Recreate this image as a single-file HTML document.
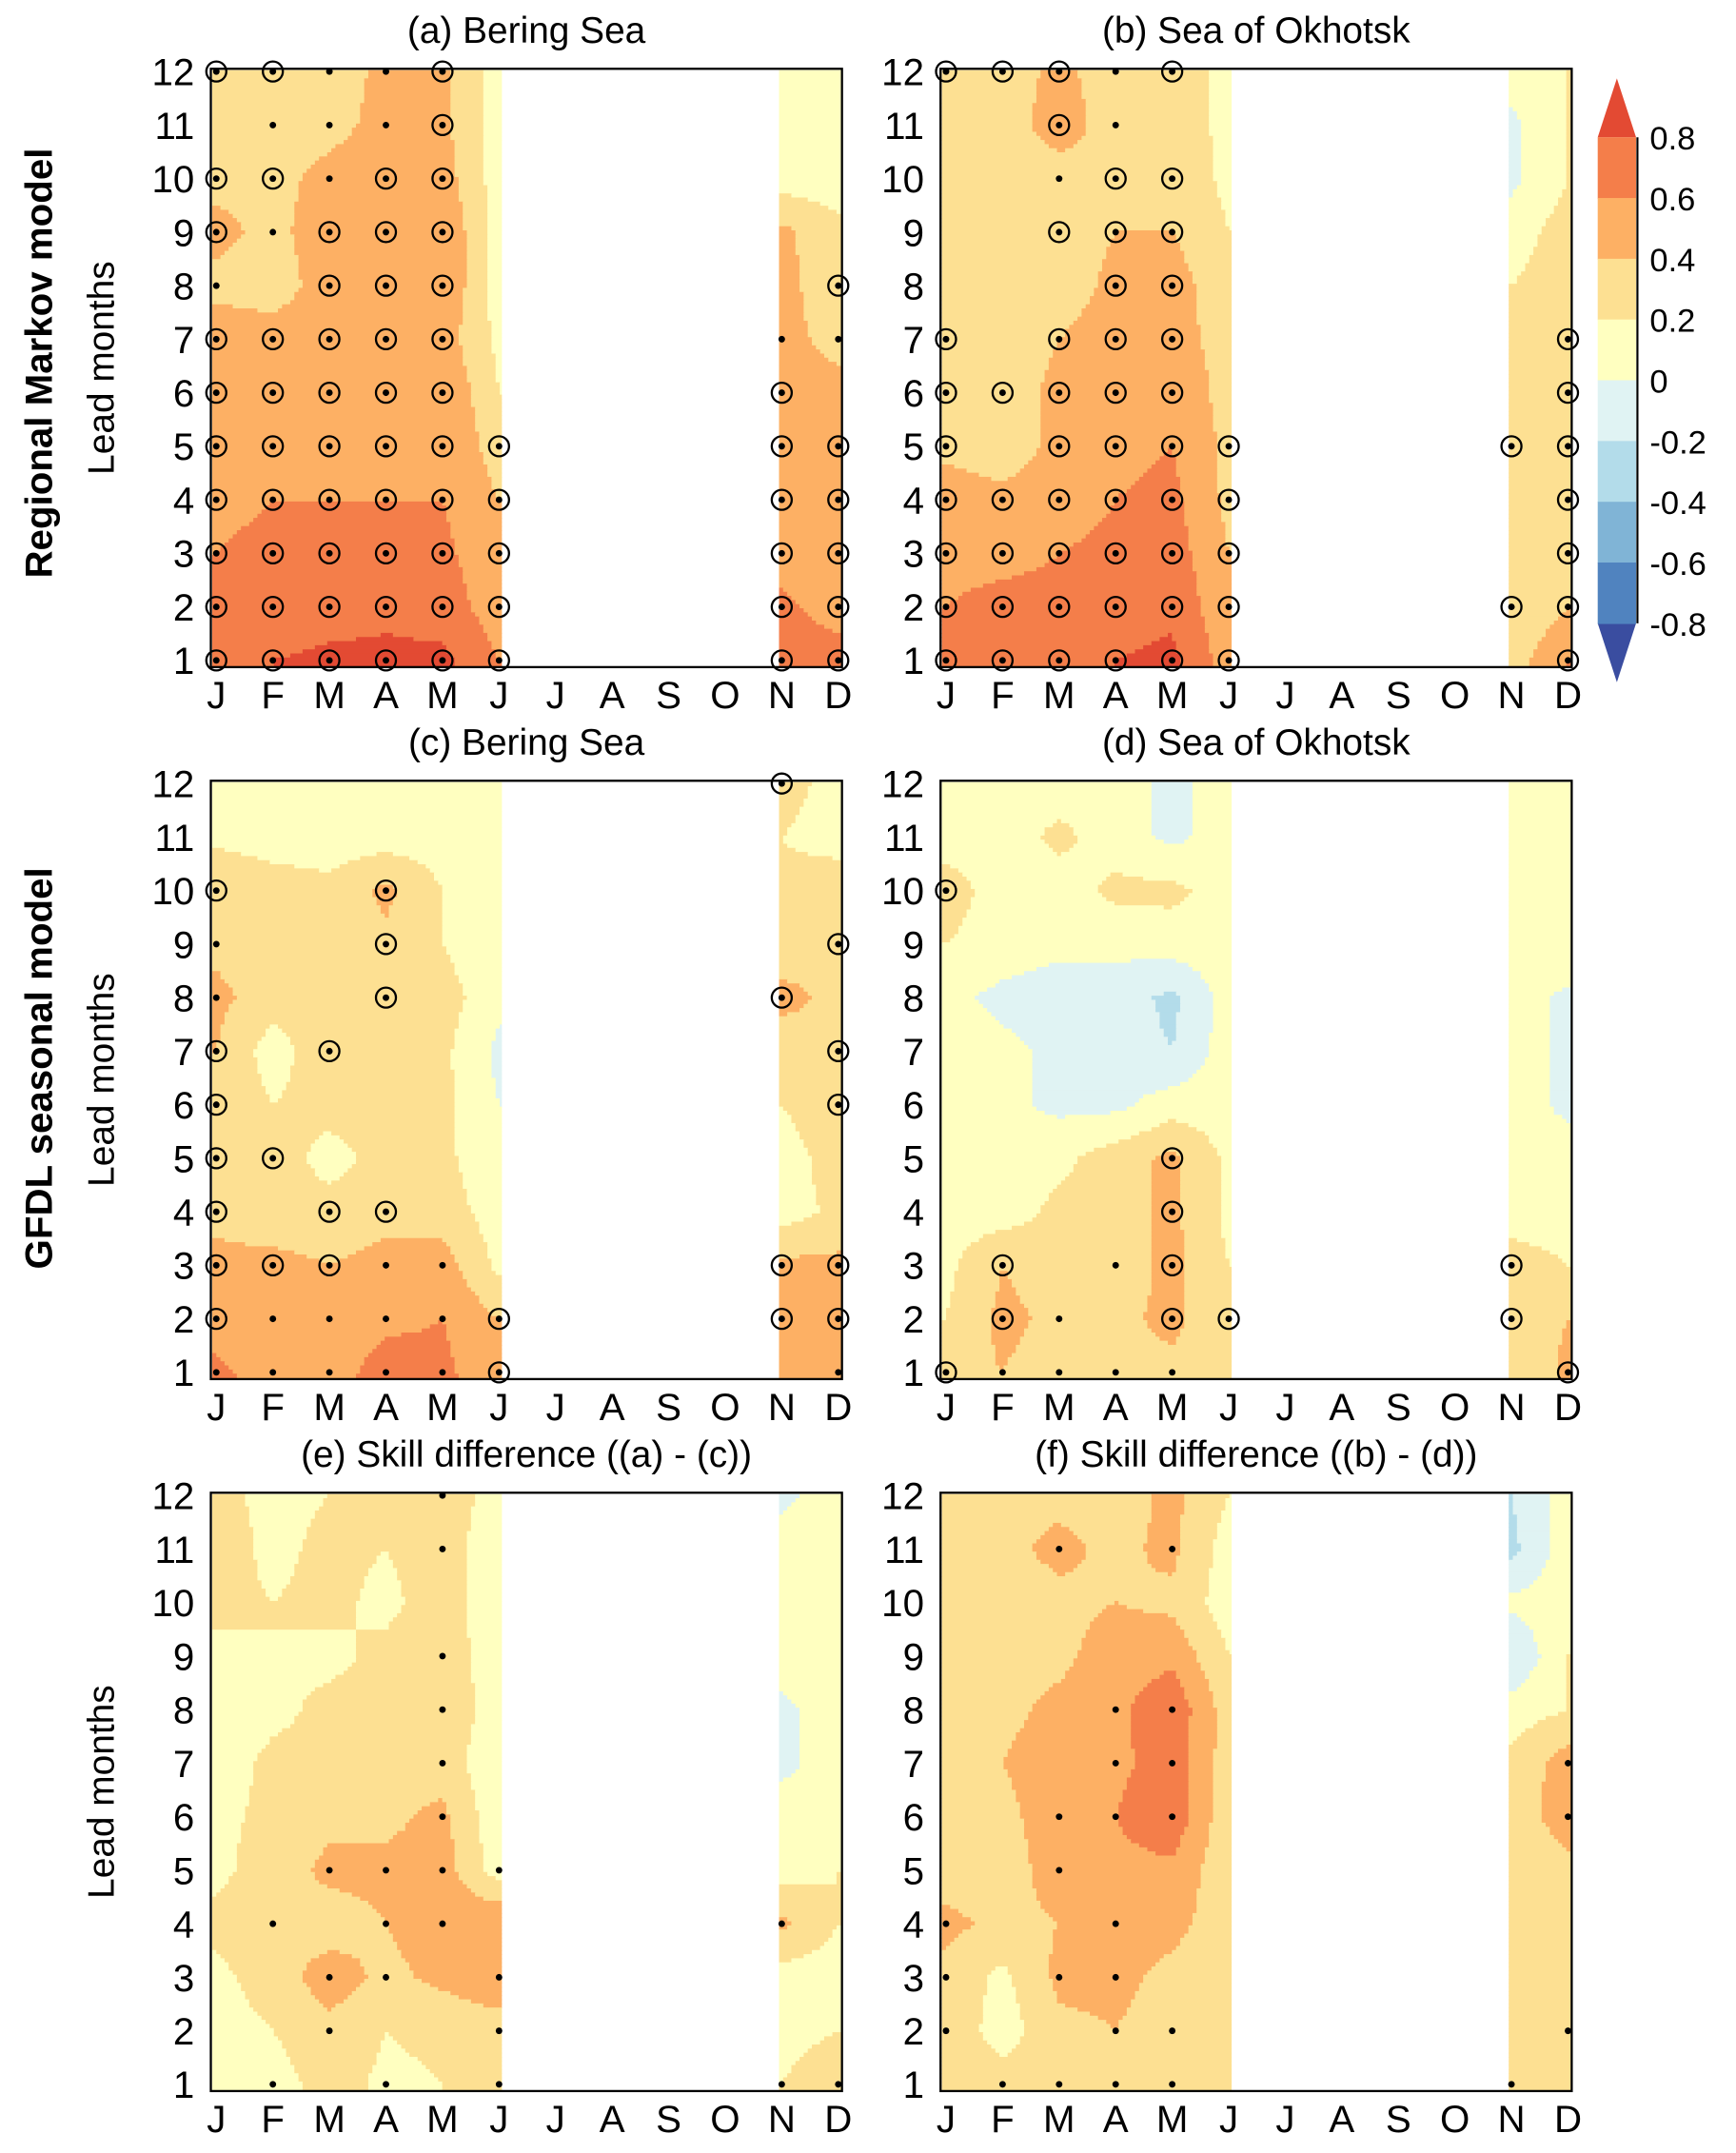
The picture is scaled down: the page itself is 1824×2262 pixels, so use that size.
<!DOCTYPE html>
<html><head><meta charset="utf-8"><style>
html,body{margin:0;padding:0;background:#fff}
svg{display:block}
text{font-family:"Liberation Sans","DejaVu Sans",sans-serif;fill:#000}
</style></head><body>
<svg id="s" width="1824" height="2262" viewBox="0 0 1268 1572" xmlns="http://www.w3.org/2000/svg">
<g id="fills"></g><g id="marks"></g><g id="axes"></g>
</svg>
<script>
(function(){
const NS="http://www.w3.org/2000/svg";
function el(t,a,p,txt){const e=document.createElementNS(NS,t);for(const k in a)e.setAttribute(k,a[k]);if(txt!==undefined)e.textContent=txt;(p||document.getElementById('axes')).appendChild(e);return e;}
function tx(a,s){return el('text',a,null,s);}
const cols=["#3a4da0","#5083bf","#80b4d6","#b3dcea","#e0f3f3","#ffffc0","#fde092","#fdb064","#f47e4a","#e34a33"];
function col(v){const edges=[-0.8,-0.6,-0.4,-0.2,0,0.2,0.4,0.6,0.8];let i=0;while(i<9&&v>=edges[i])i++;return cols[i];}
const P=[
{t:"(a) Bering Sea",d:[
[.3,.3,.3,.45,.45,.1,.1,.1],[.3,.3,.35,.45,.45,.1,.1,.1],[.35,.35,.45,.5,.5,.1,.1,.1],[.45,.35,.5,.5,.6,.1,.45,.25],
[.35,.3,.5,.5,.6,.1,.45,.3],[.5,.5,.5,.5,.5,.15,.45,.35],[.5,.5,.5,.5,.6,.2,.5,.45],[.5,.5,.5,.55,.6,.3,.5,.5],
[.55,.6,.6,.6,.6,.4,.5,.5],[.6,.65,.65,.65,.65,.45,.5,.5],[.65,.65,.7,.75,.7,.5,.65,.5],[.75,.8,.85,.85,.85,.6,.7,.7]],
m:["oo..o---","-...o---","oo.oo---","o.ooo---",".-ooo--o","ooooo-..","ooooo-o-","oooooooo","oooooooo","oooooooo","oooooooo","oooooooo"]},
{t:"(b) Sea of Okhotsk",d:[
[.3,.3,.45,.3,.3,.15,.1,.2],[.3,.3,.5,.3,.3,.15,-.05,.2],[.3,.3,.3,.4,.35,.15,-.05,.2],[.3,.3,.3,.4,.4,.2,.1,.3],
[.3,.3,.3,.45,.5,.25,.2,.3],[.3,.3,.4,.5,.5,.3,.2,.3],[.3,.3,.45,.5,.6,.3,.2,.3],[.35,.3,.45,.55,.6,.35,.2,.3],
[.5,.45,.5,.6,.65,.35,.2,.3],[.55,.55,.6,.65,.7,.4,.2,.3],[.6,.65,.65,.7,.75,.45,.2,.4],[.7,.7,.75,.8,.85,.5,.3,.6]],
m:["ooo.o---","--o.----","--.oo---","--ooo---","---oo---","o-ooo--o","ooooo--o","o-oooooo","oooooo-o","oooooo-o","oooooooo","oooooo-o"]},
{t:"(c) Bering Sea",d:[
[.1,.1,.1,.1,0,.1,.3,.1],[.15,.1,.1,.1,.1,0,.2,.1],[.4,.3,.25,.45,.2,0,.25,.35],[.35,.3,.3,.35,.2,0,.3,.4],
[.45,.3,.3,.35,.3,.05,.45,.35],[.4,.1,.35,.3,.25,-.05,.3,.4],[.35,.2,.3,.3,.25,0,.2,.35],[.35,.35,.1,.3,.25,.05,.1,.3],
[.35,.3,.3,.35,.3,.1,.1,.25],[.45,.45,.4,.45,.5,.15,.45,.45],[.5,.4,.45,.55,.6,.4,.45,.4],[.65,.5,.5,.7,.65,.45,.4,.5]],
m:["------o-","--------","o--o----",".--o---o",".--o--o-","o-o----o","o------o","oo------","o-oo----","ooo..-oo","o....ooo",".....o-."]},
{t:"(d) Sea of Okhotsk",d:[
[.1,.1,.1,.1,-.05,.1,.1,.1],[.1,.1,.25,.1,-.05,.1,.1,.1],[.3,.1,.1,.25,.25,.1,.1,.1],[.2,.1,.05,.05,.1,.1,.1,.2],
[.05,-.05,-.1,-.1,-.25,.1,.1,-.05],[.1,.05,-.05,-.1,-.2,.1,.1,-.05],[.1,.05,-.05,-.05,.1,.1,.1,-.05],[.1,.1,.15,.3,.45,.15,.1,.1],
[.1,.1,.25,.3,.45,.15,.1,.1],[.15,.4,.3,.3,.45,.2,.3,.2],[.2,.45,.35,.35,.45,.25,.3,.4],[.35,.4,.3,.35,.35,.25,.2,.45]],
m:["--------","--------","o-------","--------","--------","--------","--------","----o---","----o---","-o-.o-o-","-o.-ooo-","o....--o"]},
{t:"(e) Skill difference ((a) - (c))",d:[
[.25,.15,.2,.25,.4,.05,-.05,.1],[.3,.15,.25,.2,.3,.05,.1,.1],[.25,.2,.25,.15,.3,.05,.05,.1],[.15,.2,.15,.25,.35,.05,.1,.2],
[.05,.15,.25,.3,.4,.05,-.05,.1],[.1,.25,.25,.35,.3,.05,-.05,.1],[.15,.25,.35,.35,.45,.05,.1,.05],[.15,.3,.45,.45,.5,.1,.1,.2],
[.25,.35,.3,.4,.5,.6,.45,.2],[.15,.3,.5,.35,.45,.55,.1,.1],[.1,.2,.35,.2,.25,.3,.15,.2],[.1,.1,.3,.15,.2,.25,.2,.3]],
m:["----.---","----.---","--------","----.---","----.---","----.---","----.---","--....--","-.-..-.-","--..-.--","--.--.--","-.-.-..."]},
{t:"(f) Skill difference ((b) - (d))",d:[
[.3,.35,.35,.3,.45,.2,-.2,.1],[.3,.35,.45,.35,.45,.1,-.25,.1],[.25,.3,.35,.4,.35,.1,.05,.1],[.3,.35,.35,.5,.55,.2,-.2,.2],
[.3,.35,.45,.55,.75,.3,.1,.2],[.3,.4,.5,.55,.7,.3,.25,.5],[.3,.35,.5,.6,.75,.25,.3,.5],[.3,.3,.5,.55,.55,.25,.2,.35],
[.45,.35,.4,.5,.45,.3,.25,.3],[.35,.15,.45,.45,.35,.3,.25,.35],[.35,.1,.35,.4,.3,.3,.25,.35],[.3,.3,.35,.35,.3,.3,.2,.3]],
m:["--------","--.-.---","--------","--------","---..---","---..--.","--...--.","--.-----",".--.----",".-..----",".--..--.","-....-.-"]}
];
const fills=document.getElementById('fills'),marks=document.getElementById('marks');
const step=41.3, rs=39.1;
const months=["J","F","M","A","M","J","J","A","S","O","N","D"];
P.forEach((p,i)=>{
 const ox=(i%2)*533, oy=Math.floor(i/2)*520;
 const X0=158+ox, Y12=52+oy;
 const fl=154+ox, fr=615+ox, ft=50+oy, fb=487+oy;
 const segs=[[0,5,fl+1,366+ox],[6,7,569+ox,fr-1]];
 const h=3;
 segs.forEach(([c0,c1,xa,xb])=>{
  const mx0=(c0==0?0:10);
  for(let y=ft+1;y<fb;y+=h){
   let r=(y+h/2-Y12)/rs; r=Math.max(0,Math.min(11,r));
   const r0=Math.min(10,Math.floor(r)), fr_=r-r0;
   let runStart=xa, runCol=null;
   for(let x=xa;x<=xb+h;x+=h){
    let c;
    if(x<xb){
     let m=(x+h/2-X0)/step - mx0 + c0; m=Math.max(c0,Math.min(c1,m));
     const m0=Math.min(c1-1,Math.floor(m)), fm=m-m0;
     const d=p.d;
     const v=(d[r0][m0]*(1-fm)+d[r0][m0+1]*fm)*(1-fr_)+(d[r0+1][m0]*(1-fm)+d[r0+1][m0+1]*fm)*fr_;
     c=col(v);
    } else c=null;
    if(c!==runCol){
     if(runCol) el('rect',{x:runStart,y:y,width:Math.min(x,xb)-runStart+0.6,height:Math.min(h+0.6,fb-y),fill:runCol},fills);
     runStart=x; runCol=c;
    }
    if(c===null) break;
   }
  }
 });
 p.m.forEach((s,ri)=>{
  const y=Y12+ri*rs;
  for(let k=0;k<8;k++){
   const ch=s[k]; if(!ch||ch=='-')continue;
   const mi=k<6?k:k+4; const x=X0+mi*step;
   if(ch=='o') el('circle',{cx:x,cy:y,r:7.3,fill:'none',stroke:'#000','stroke-width':1.6},marks);
   el('circle',{cx:x,cy:y,r:2.4,fill:'#000'},marks);
  }
 });
 el('rect',{x:fl,y:ft,width:fr-fl,height:fb-ft,fill:'none',stroke:'#000','stroke-width':1.6});
 for(let L=1;L<=12;L++) tx({x:fl-12,y:Y12+(12-L)*rs+10,'text-anchor':'end','font-size':28},String(L));
 months.forEach((mn,k)=>tx({x:X0+k*step,y:fb+30,'text-anchor':'middle','font-size':28},mn));
 tx({x:(fl+fr)/2,y:ft-19,'text-anchor':'middle','font-size':27},p.t);
 if(i%2==0) tx({transform:`translate(83,${(ft+fb)/2}) rotate(-90)`,'text-anchor':'middle','font-size':27},"Lead months");
});
tx({transform:`translate(38,265) rotate(-90)`,'text-anchor':'middle','font-size':28,'font-weight':'bold'},"Regional Markov model");
tx({transform:`translate(38,780) rotate(-90)`,'text-anchor':'middle','font-size':28,'font-weight':'bold'},"GFDL seasonal model");
const cx=1167,cw=28,cbTop=100,cbBot=455,seg=(cbBot-cbTop)/8;
el('polygon',{points:`${cx},${cbTop} ${cx+cw},${cbTop} ${cx+cw/2},57`,fill:cols[9]});
el('polygon',{points:`${cx},${cbBot} ${cx+cw},${cbBot} ${cx+cw/2},498`,fill:cols[0]});
for(let k=0;k<8;k++) el('rect',{x:cx,y:cbTop+k*seg,width:cw,height:seg+0.5,fill:cols[8-k]});
el('line',{x1:cx+cw+1,y1:cbTop,x2:cx+cw+1,y2:cbBot,stroke:'#000','stroke-width':1.5});
["0.8","0.6","0.4","0.2","0","-0.2","-0.4","-0.6","-0.8"].forEach((t,k)=>tx({x:1205,y:cbTop+k*seg+9,'font-size':24},t));
})();
</script>
</body></html>
